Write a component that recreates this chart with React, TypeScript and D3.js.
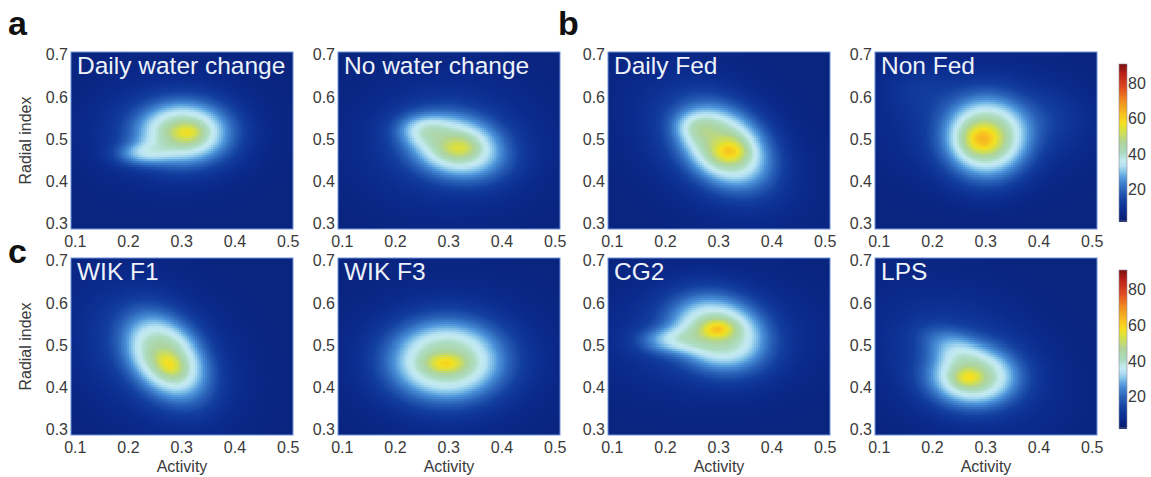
import { useEffect, useRef } from "react";
import * as d3 from "d3";

// density blobs: [cx, cy, sx, sy, rho, amp, shape]
const titles = [
  "Daily water change",
  "No water change",
  "Daily Fed",
  "Non Fed",
  "WIK F1",
  "WIK F3",
  "CG2",
  "LPS",
];

const dailyWater = [
  [0.28, 0.52, 0.09, 0.075, 0, 9, 1],
  [0.305, 0.515, 0.07, 0.058, 0, 30, 1.3],
  [0.31, 0.515, 0.022, 0.016, 0, 13, 1],
  [0.22, 0.465, 0.035, 0.02, 0, 14, 1.1],
];
const noWater = [
  [0.3, 0.49, 0.1, 0.09, 0, 9, 1],
  [0.315, 0.482, 0.072, 0.06, -0.2, 28, 1.3],
  [0.32, 0.48, 0.025, 0.018, 0, 12, 1],
  [0.245, 0.525, 0.035, 0.025, 0, 10, 1.1],
];
const dailyFed = [
  [0.29, 0.49, 0.09, 0.1, -0.4, 10, 1],
  [0.312, 0.482, 0.066, 0.076, -0.3, 31, 1.3],
  [0.321, 0.472, 0.022, 0.02, 0, 16, 1],
  [0.255, 0.53, 0.03, 0.025, 0, 8, 1.1],
];
const nonFed = [
  [0.29, 0.53, 0.1, 0.08, 0, 9, 1],
  [0.17, 0.62, 0.05, 0.04, 0, 4, 1],
  [0.42, 0.55, 0.05, 0.05, 0, 4, 1],
  [0.302, 0.5, 0.062, 0.076, 0, 32, 1.3],
  [0.294, 0.5, 0.025, 0.025, 0, 18, 1],
];
const wikF1 = [
  [0.25, 0.48, 0.09, 0.1, -0.3, 10, 1],
  [0.272, 0.47, 0.06, 0.08, -0.35, 30, 1.3],
  [0.277, 0.455, 0.018, 0.022, -0.3, 13, 1],
];
const wikF3 = [
  [0.3, 0.47, 0.1, 0.09, 0, 9, 1],
  [0.295, 0.462, 0.085, 0.074, 0, 30, 1.3],
  [0.294, 0.458, 0.025, 0.016, 0, 15, 1],
];
const cg2 = [
  [0.28, 0.52, 0.11, 0.08, 0, 9, 1],
  [0.3, 0.53, 0.07, 0.07, -0.2, 30, 1.3],
  [0.298, 0.537, 0.022, 0.016, 0, 18, 1],
  [0.2, 0.51, 0.04, 0.022, 0, 14, 1.1],
];
const lps = [
  [0.26, 0.46, 0.1, 0.1, -0.3, 9, 1],
  [0.277, 0.425, 0.066, 0.056, 0, 30, 1.3],
  [0.268, 0.424, 0.02, 0.016, 0, 14, 1],
  [0.23, 0.505, 0.04, 0.03, -0.3, 10, 1.1],
];

const blobs = [dailyWater, noWater, dailyFed, nonFed, wikF1, wikF3, cg2, lps];
const baseDensity = 6;

const xTicks = [0.1, 0.2, 0.3, 0.4, 0.5];
const yTicks = [0.3, 0.4, 0.5, 0.6, 0.7];
const cbarTicks = [20, 40, 60, 80];

const stopVals = [2, 8, 14, 20, 26, 30, 34, 37, 41, 47, 54, 58, 63, 70, 78, 86, 91];
const stopCols = [
  "#081a66", "#0a2a8c", "#123f9f", "#2a62b8", "#4a90d8", "#7cbde8", "#b6e2f2",
  "#c4eaf0", "#acdcc2", "#aed49a", "#d8e044", "#f5e020", "#f8c020", "#f09020",
  "#e04a20", "#b82018", "#7a1010",
];

const FONT = '"Liberation Sans", Arial, Helvetica, sans-serif';
const lefts = [71, 338, 608, 875];
const tops = [52, 258];
const PW = 222;
const PH = 177;

function density(comps, x, y) {
  let v = baseDensity;
  for (const [cx, cy, sx, sy, rho, amp, p] of comps) {
    const dx = (x - cx) / sx;
    const dy = (y - cy) / sy;
    const q = (dx * dx - 2 * rho * dx * dy + dy * dy) / (1 - rho * rho);
    v += amp * Math.exp(-0.5 * Math.pow(q, p));
  }
  return v;
}

export default function App() {
  const ref = useRef(null);

  useEffect(() => {
    const svg = d3.select(ref.current);
    svg.selectAll("*").remove();
    const color = d3
      .scaleLinear()
      .domain(stopVals)
      .range(stopCols)
      .interpolate(d3.interpolateRgb)
      .clamp(true);

    const nx = 111;
    const ny = 88;

    blobs.forEach((comps, i) => {
      const left = lefts[i % 4];
      const top = tops[Math.floor(i / 4)];
      const x = d3.scaleLinear().domain([0.092, 0.509]).range([left, left + PW]);
      const y = d3.scaleLinear().domain([0.287, 0.707]).range([top + PH, top]);
      const cw = PW / nx;
      const ch = PH / ny;
      const cells = [];
      for (let r = 0; r < ny; r++) {
        for (let c = 0; c < nx; c++) {
          const px = left + (c + 0.5) * cw;
          const py = top + (r + 0.5) * ch;
          cells.push({ px: left + c * cw, py: top + r * ch, v: density(comps, x.invert(px), y.invert(py)) });
        }
      }
      const g = svg.append("g");
      g.selectAll("rect.cell")
        .data(cells)
        .enter()
        .append("rect")
        .attr("x", (d) => d.px)
        .attr("y", (d) => d.py)
        .attr("width", cw + 0.4)
        .attr("height", ch + 0.4)
        .attr("fill", (d) => color(d.v))
        .attr("shape-rendering", "crispEdges");

      g.append("rect")
        .attr("x", left)
        .attr("y", top)
        .attr("width", PW)
        .attr("height", PH)
        .attr("fill", "none")
        .attr("stroke", "#6f92d8")
        .attr("stroke-width", 1);

      g.append("text")
        .attr("x", left + 6)
        .attr("y", top + 22)
        .attr("fill", "#eef2fa")
        .attr("font-family", FONT)
        .attr("font-size", 24.5)
        .text(titles[i]);

      g.selectAll("text.yt")
        .data(yTicks)
        .enter()
        .append("text")
        .attr("x", left - 3)
        .attr("y", (d) => y(d) + 5.5)
        .attr("text-anchor", "end")
        .attr("fill", "#3a3a3a")
        .attr("font-family", FONT)
        .attr("font-size", 16)
        .text((d) => d.toFixed(1));

      g.selectAll("text.xt")
        .data(xTicks)
        .enter()
        .append("text")
        .attr("x", (d) => x(d))
        .attr("y", top + PH + 18)
        .attr("text-anchor", "middle")
        .attr("fill", "#3a3a3a")
        .attr("font-family", FONT)
        .attr("font-size", 16)
        .text((d) => d.toFixed(1));

      if (i >= 4) {
        g.append("text")
          .attr("x", left + PW / 2)
          .attr("y", top + PH + 37)
          .attr("text-anchor", "middle")
          .attr("fill", "#3a3a3a")
          .attr("font-family", FONT)
          .attr("font-size", 16)
          .text("Activity");
      }
      if (i % 4 === 0) {
        g.append("text")
          .attr("transform", `translate(31,${top + PH / 2}) rotate(-90)`)
          .attr("text-anchor", "middle")
          .attr("fill", "#3a3a3a")
          .attr("font-family", FONT)
          .attr("font-size", 16)
          .text("Radial index");
      }
    });

    // colorbars
    [
      [64, 221],
      [270, 428],
    ].forEach(([t, b]) => {
      const cy = d3.scaleLinear().domain([2.5, 91]).range([b, t]);
      const vals = d3.range(2.5, 91, 0.5);
      const g = svg.append("g");
      g.selectAll("rect")
        .data(vals)
        .enter()
        .append("rect")
        .attr("x", 1119)
        .attr("y", (d) => cy(d + 0.5))
        .attr("width", 8)
        .attr("height", (d) => cy(d) - cy(d + 0.5) + 0.5)
        .attr("fill", (d) => color(d + 0.25))
        .attr("shape-rendering", "crispEdges");
      g.append("rect")
        .attr("x", 1119)
        .attr("y", t)
        .attr("width", 8)
        .attr("height", b - t)
        .attr("fill", "none")
        .attr("stroke", "#8a8a9a")
        .attr("stroke-width", 0.6);
      g.selectAll("text")
        .data(cbarTicks)
        .enter()
        .append("text")
        .attr("x", 1128)
        .attr("y", (d) => cy(d) + 5.5)
        .attr("fill", "#3a3a3a")
        .attr("font-family", FONT)
        .attr("font-size", 16)
        .text((d) => d);
    });

    // panel letters
    [
      ["a", 8, 35],
      ["b", 558, 35],
      ["c", 8, 263],
    ].forEach(([s, lx, ly]) => {
      svg
        .append("text")
        .attr("x", lx)
        .attr("y", ly)
        .attr("font-family", FONT)
        .attr("font-weight", "bold")
        .attr("font-size", 34)
        .attr("fill", "#111")
        .text(s);
    });
  }, []);

  return (
    <svg
      ref={ref}
      width={1151}
      height={477}
      style={{ position: "absolute", left: 0, top: 0, background: "#fff" }}
    />
  );
}
